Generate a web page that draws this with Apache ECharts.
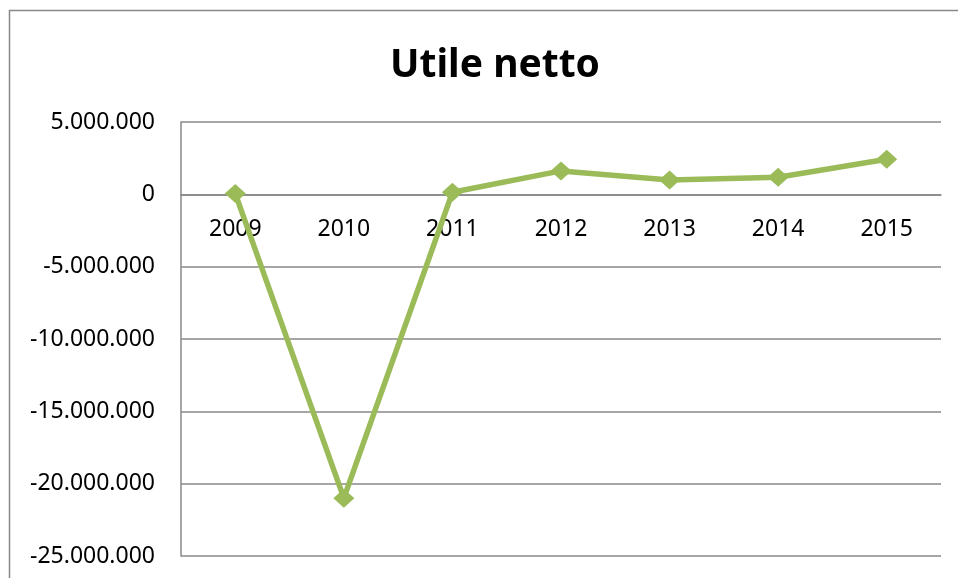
<!DOCTYPE html>
<html>
<head>
<meta charset="utf-8">
<script src="https://cdn.jsdelivr.net/npm/echarts@6/dist/echarts.min.js"></script>
<style>html,body{margin:0;padding:0;background:#fff}#c{width:958px;height:578px}</style>
</head>
<body>
<div id="c"></div>
<script>
const categories = ['2009','2010','2011','2012','2013','2014','2015'];
const utileNetto = [50000, -21000000, 140000, 1620000, 990000, 1180000, 2430000];
const yMin = -25000000, yMax = 5000000, yStep = 5000000;

const W = 958, H = 578;
const gridTop = 122, gridBottom = 22;
const plotH = H - gridTop - gridBottom;
const zeroOffset = -((0 - yMin) / (yMax - yMin)) * plotH;

const chart = echarts.init(document.getElementById('c'), null, {renderer:'canvas'});
const fmt = v => {
  const s = Math.abs(v).toString().replace(/\B(?=(\d{3})+(?!\d))/g, '.');
  return (v < 0 ? '-' : '') + s;
};
chart.setOption({
  animation: false,
  backgroundColor: '#fff',
  graphic: [{
    type: 'rect', shape: {x: 9.5, y: 10.5, width: 1000, height: 1000},
    style: {fill: 'none', stroke: '#888', lineWidth: 1.5}, silent: true, z: -1
  }],
  title: {
    text: 'Utile netto', left: 490, top: 41, textAlign: 'center',
    textStyle: {fontFamily: 'Noto Sans', fontWeight: 'bold', fontSize: 39, color: '#000'}
  },
  grid: {left: 181, right: 17, top: gridTop, bottom: gridBottom, containLabel: false, outerBoundsMode: 'none'},
  xAxis: {
    type: 'category', data: categories, boundaryGap: true,
    offset: zeroOffset,
    axisLine: {show: true, onZero: false, lineStyle: {color: '#888', width: 1.5}},
    axisTick: {show: false},
    axisLabel: {margin: 24, fontFamily: 'Noto Sans', fontSize: 23, color: '#000'}
  },
  yAxis: {
    type: 'value', min: yMin, max: yMax, interval: yStep,
    axisLine: {show: true, lineStyle: {color: '#888', width: 1.5}},
    axisTick: {show: false},
    splitLine: {show: true, lineStyle: {color: '#888', width: 1.5}},
    axisLabel: {margin: 26, fontFamily: 'Noto Sans', fontSize: 23, color: '#000', formatter: fmt}
  },
  series: [{
    type: 'line', data: utileNetto, z: 3,
    symbol: 'diamond', symbolSize: [21, 19],
    lineStyle: {color: '#9BBB59', width: 5.5},
    itemStyle: {color: '#9BBB59'}
  }]
});
</script>
</body>
</html>
